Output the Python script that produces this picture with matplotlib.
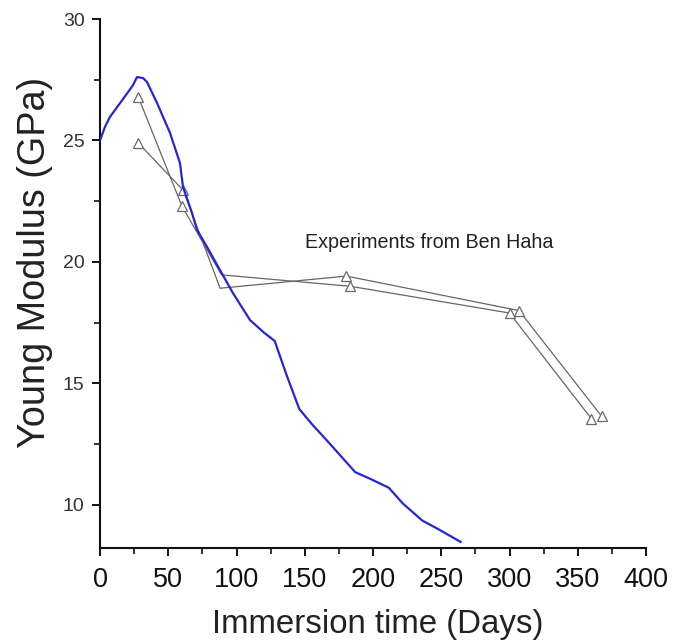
import matplotlib
matplotlib.use("Agg")
import matplotlib.pyplot as plt
from matplotlib import font_manager
from matplotlib.ticker import MultipleLocator

# ---------------- data ----------------
model_days = [0, 3.7, 7.3, 14.7, 20, 24.2, 27.1, 31.5, 34.4, 41.8, 51.3, 58.6, 60.8,
              67.4, 71.1, 78.4, 87.9, 97.4, 109.9, 120, 128, 137, 146, 155.2, 166.8,
              187, 198.6, 211.6, 221.7, 236.1, 247.7, 264.2]
model_E = [25.0, 25.57, 25.97, 26.54, 26.95, 27.28, 27.61, 27.57, 27.41, 26.54, 25.31,
           24.07, 23.09, 22.02, 21.32, 20.62, 19.67, 18.72, 17.61, 17.1, 16.75, 15.3,
           13.95, 13.33, 12.62, 11.35, 11.06, 10.71, 10.07, 9.36, 9.01, 8.48]

expA_days = [28, 60, 89, 183.5, 300, 360]
expA_E = [26.8, 22.3, 19.47, 19.0, 17.9, 13.55]
expB_days = [28, 61, 88, 180.5, 307, 367.5]
expB_E = [24.9, 22.95, 18.92, 19.42, 18.0, 13.65]
exp_marked = [0, 1, 3, 4, 5]

annotation = "Experiments from Ben Haha"
xlabel = "Immersion time (Days)"
ylabel = "Young Modulus (GPa)"
xticks = [0, 50, 100, 150, 200, 250, 300, 350, 400]
yticks = [10, 15, 20, 25, 30]

# ---------------- fonts ----------------
names = {f.name for f in font_manager.fontManager.ttflist}
narrow = "Liberation Sans Narrow" if "Liberation Sans Narrow" in names else "Liberation Sans"
narrow_scale = 1.0 if narrow == "Liberation Sans Narrow" else 0.85
plt.rcParams['font.family'] = ['Liberation Sans', 'DejaVu Sans']

fig = plt.figure(figsize=(6.78, 6.43), dpi=100)
ax = fig.add_axes([100/678, 95/643, 546/678, 529/643])

ax.plot(model_days, model_E, color='#2626d8', lw=1.6, zorder=3)
for d, e in ((expA_days, expA_E), (expB_days, expB_E)):
    ax.plot(d, e, color='#666666', lw=0.9, marker='^', markevery=exp_marked,
            ms=7, mfc='white', mec='#6a6a6a', mew=0.9, zorder=2)

ax.text(150.2, 20.82, annotation, ha='left', va='center', fontsize=14.2,
        color='#222222', family='Liberation Sans')

ax.set_xlim(0, 400)
ax.set_ylim(8.23, 30)
ax.set_xticks(xticks)
ax.set_yticks(yticks)
ax.xaxis.set_minor_locator(MultipleLocator(25))
ax.yaxis.set_minor_locator(MultipleLocator(2.5))

for s in ('top', 'right'):
    ax.spines[s].set_visible(False)
for s in ('left', 'bottom'):
    ax.spines[s].set_linewidth(1.5)
    ax.spines[s].set_color('#111111')

ax.tick_params(which='major', direction='out', length=6, width=1.4, color='#111111')
ax.tick_params(which='minor', direction='out', length=4, width=1.2, color='#111111')
ax.tick_params(axis='x', which='major', pad=8)
ax.tick_params(axis='y', which='major', pad=5)

ax.set_xticklabels([str(t) for t in xticks], family=narrow, fontsize=23*narrow_scale,
                   color='#111111')
ax.set_yticklabels([str(t) for t in yticks], family='Liberation Sans', fontsize=14,
                   color='#333333')

ax.set_xlabel(xlabel, family=narrow, fontsize=28*narrow_scale, color='#222222')
ax.xaxis.label.set_va('baseline')
ax.xaxis.set_label_coords(0.509, -0.160)

ax.set_ylabel(ylabel, family=narrow, fontsize=32*narrow_scale, color='#222222')
ax.yaxis.label.set_va('center')
ax.yaxis.set_label_coords(-0.119, 0.539)

fig.savefig("out.png", dpi=100)
